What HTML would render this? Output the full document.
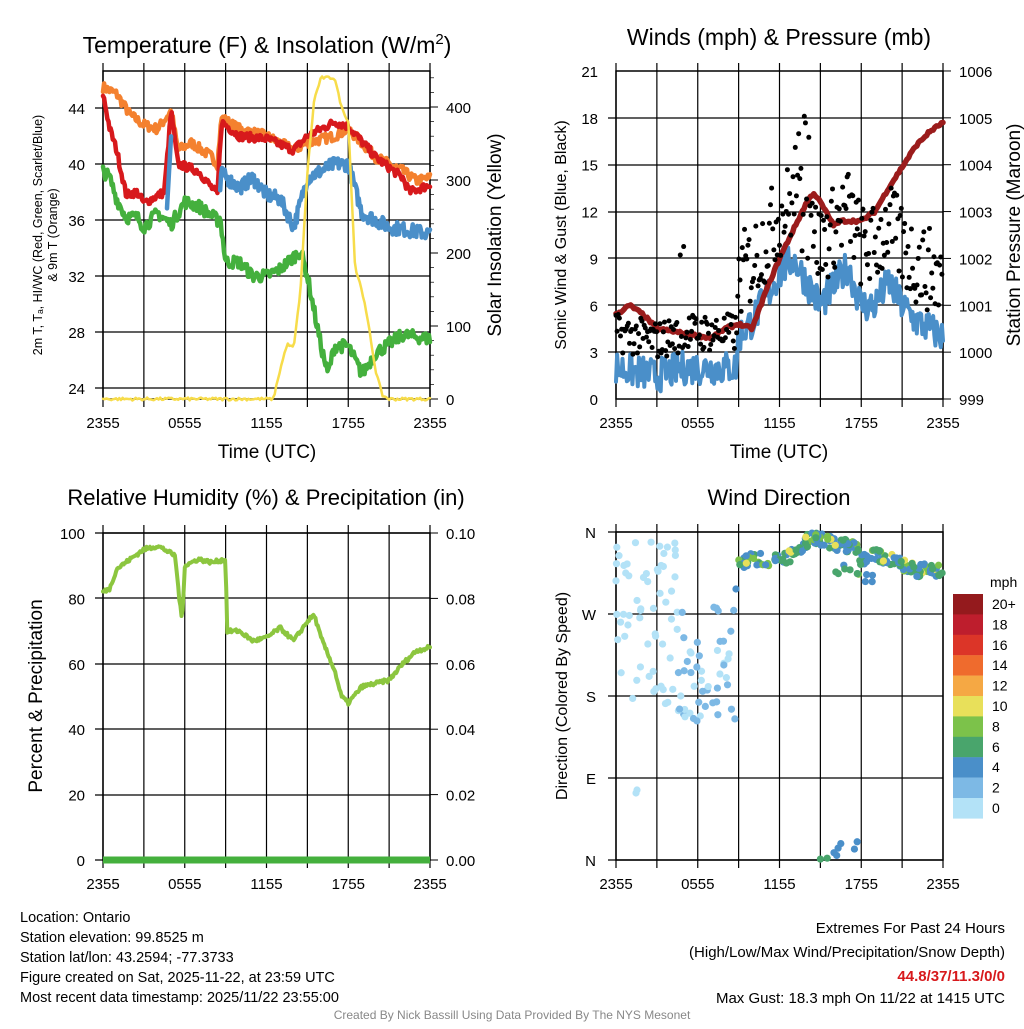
<!DOCTYPE html>
<html><head><meta charset="utf-8"><style>
body{margin:0;background:#fff;}
svg{font-family:"Liberation Sans",sans-serif;}
</style></head><body>
<svg id="s" width="1024" height="1024" xmlns="http://www.w3.org/2000/svg">
<rect width="1024" height="1024" fill="#fff"/>
<text x="267" y="53" font-size="23" text-anchor="middle">Temperature (F) &amp; Insolation (W/m<tspan dy="-9" font-size="15">2</tspan><tspan dy="9">)</tspan></text>
<text x="779" y="45" font-size="23" text-anchor="middle">Winds (mph) &amp; Pressure (mb)</text>
<text x="266" y="505" font-size="22" text-anchor="middle">Relative Humidity (%) &amp; Precipitation (in)</text>
<text x="779" y="505" font-size="22" text-anchor="middle">Wind Direction</text>
<g id="g"></g>
<g font-size="14.5">
<text x="20" y="922">Location: Ontario</text>
<text x="20" y="942">Station elevation: 99.8525 m</text>
<text x="20" y="962">Station lat/lon: 43.2594; -77.3733</text>
<text x="20" y="982">Figure created on Sat, 2025-11-22, at 23:59 UTC</text>
<text x="20" y="1002">Most recent data timestamp: 2025/11/22 23:55:00</text>
<text x="1005" y="933" text-anchor="end" font-size="15">Extremes For Past 24 Hours</text>
<text x="1005" y="957" text-anchor="end" font-size="15">(High/Low/Max Wind/Precipitation/Snow Depth)</text>
<text x="1005" y="981" text-anchor="end" font-size="15" font-weight="bold" fill="#d7191c">44.8/37/11.3/0/0</text>
<text x="1005" y="1003" text-anchor="end" font-size="15">Max Gust: 18.3 mph On 11/22 at 1415 UTC</text>
</g>
<text x="512" y="1019" text-anchor="middle" font-size="12" fill="#888">Created By Nick Bassill Using Data Provided By The NYS Mesonet</text>
</svg>
<script>
var NS="http://www.w3.org/2000/svg",G=document.getElementById("g");
function el(t,a,txt){var e=document.createElementNS(NS,t);for(var k in a)e.setAttribute(k,a[k]);if(txt!=null)e.textContent=txt;G.appendChild(e);return e;}
var seed=7;function rnd(){seed=(seed*16807)%2147483647;return seed/2147483647;}
function interp(k,h){for(var i=0;i<k.length-1;i++){if(h<=k[i+1][0]){var a=k[i],b=k[i+1],t=(h-a[0])/(b[0]-a[0]||1);return a[1]+t*(b[1]-a[1]);}}return k[k.length-1][1];}
function series(k,h0,h1,n,noise,fx,fy,col,w){var d="";for(var i=0;i<=n;i++){var h=h0+(h1-h0)*i/n;var v=interp(k,h)+(rnd()-0.5)*noise;d+=(i?"L":"M")+fx(h).toFixed(1)+","+fy(v).toFixed(1);}el("path",{d:d,fill:"none",stroke:col,"stroke-width":w,"stroke-linejoin":"round","stroke-linecap":"round"});}
function frame(x0,y0,x1,y1,hy){var xs=[];for(var i=0;i<=8;i++)xs.push(x0+(x1-x0)*i/8);
xs.forEach(function(x){el("line",{x1:x,y1:y0-8,x2:x,y2:y1+8,stroke:"#000","stroke-width":1.2});});
hy.forEach(function(y){el("line",{x1:x0-8,y1:y,x2:x1,y2:y,stroke:"#000","stroke-width":1.2});});
el("rect",{x:x0,y:y0,width:x1-x0,height:y1-y0,fill:"none",stroke:"#000","stroke-width":1.5});
["2355","0555","1155","1755","2355"].forEach(function(t,i){el("text",{x:x0+(x1-x0)*i/4,y:y1+29,"font-size":15,"text-anchor":"middle"},t);});}
var X=function(x0){return function(h){return x0+h*327/24;};};
// ---- Panel 1
var fx1=X(103),fy1=function(v){return 388-(v-24)*14;},fs=function(v){return 399-v*0.73;};
frame(103,71,430,399,[108,164,220,276,332,388]);
[44,40,36,32,28,24].forEach(function(v){el("text",{x:85,y:fy1(v)+6,"font-size":15,"text-anchor":"end"},v);});
[0,100,200,300,400].forEach(function(v){el("line",{x1:430,y1:fs(v),x2:438,y2:fs(v),stroke:"#000"});el("text",{x:446,y:fs(v)+6,"font-size":15},v);});
for(var v=0;v<=440;v+=20){el("line",{x1:430,y1:fs(v),x2:434,y2:fs(v),stroke:"#000","stroke-width":0.7});}
el("text",{x:267,y:458,"font-size":19,"text-anchor":"middle"},"Time (UTC)");
el("text",{transform:"translate(42,235) rotate(-90)","font-size":12.5,"text-anchor":"middle"},"2m T, T\u2090, HI/WC (Red, Green, Scarlet/Blue)");
el("text",{transform:"translate(57,235) rotate(-90)","font-size":12.5,"text-anchor":"middle"},"& 9m T (Orange)");
el("text",{transform:"translate(501,235) rotate(-90)","font-size":19,"text-anchor":"middle"},"Solar Insolation (Yellow)");
series([[0,45.5],[1,45],[2,43.5],[3,42.8],[4,42.5],[5,43.8],[5.5,41],[6.5,41.5],[8,40.5],[8.4,40],[8.7,43.3],[10,42.5],[12,42],[14,41],[15,41.5],[17,42],[18,42.5],[20,40.5],[22,39.5],[23,38.8],[24,39]],0,24,300,0.7,fx1,fy1,"#f4812f",4.5);
series([[0,45],[0.5,42.5],[1,41],[1.7,37.8],[2.5,38],[3,37.2],[4.5,38],[5,43.8],[5.5,40],[7,39.5],[8.4,37.8],[8.7,43],[10,42],[12,41.8],[14,41],[15,42],[17,43],[18,42.7],[20,40.5],[22,39],[22.5,38],[24,38.5]],0,24,300,0.6,fx1,fy1,"#d7191c",4.5);
series([[4.7,37],[5,42]],4.7,5,6,0.4,fx1,fy1,"#4a8fc9",4.5);
series([[8.6,38],[8.7,39.3],[10,38.3],[11,39],[12,37.8],[13,37.5],[14,35.5],[15,39],[17,40],[18,40],[19,36.5],[21,35.5],[24,35]],8.6,24,230,1.0,fx1,fy1,"#4a8fc9",4.5);
series([[0,39.5],[0.5,39],[1,37.5],[1.7,36.2],[2.5,36.2],[3,35.5],[4,36.5],[5,35.7],[6,37.3],[7,37],[8.4,36],[8.6,36.2],[9,33],[10,33],[11,32],[12,32],[13,32.5],[14.5,33.8],[15,32],[16,27],[16.5,25],[17,27],[18,27],[19,25],[20,26.5],[22,27.8],[24,27.5]],0,24,300,0.9,fx1,fy1,"#44b03d",4.5);
series([[0,0],[12.5,0],[13,40],[13.5,75],[14,70],[14.5,150],[15,310],[15.5,410],[16,440],[17,440],[17.5,400],[18,380],[18.5,180],[19,150],[19.5,100],[20,40],[20.5,5],[21,0],[24,0]],0,24,200,4,fx1,fs,"#f7dc4a",2.5);
// ---- Panel 2
var fx2=X(616),fy2=function(v){return 399-v*15.62;},fp=function(v){return 399-(v-999)*46.86;};
frame(616,71,943,399,[352,305,258,212,165,118]);
[0,3,6,9,12,15,18,21].forEach(function(v){el("text",{x:598,y:fy2(v)+6,"font-size":15,"text-anchor":"end"},v);});
for(var p=999;p<=1006;p++){el("line",{x1:943,y1:fp(p),x2:951,y2:fp(p),stroke:"#000"});el("text",{x:959,y:fp(p)+6,"font-size":15},p);}
el("text",{x:779,y:458,"font-size":19,"text-anchor":"middle"},"Time (UTC)");
el("text",{transform:"translate(566,235) rotate(-90)","font-size":16,"text-anchor":"middle"},"Sonic Wind & Gust (Blue, Black)");
el("text",{transform:"translate(1020,235) rotate(-90)","font-size":19,"text-anchor":"middle"},"Station Pressure (Maroon)");
var wk=[[0,2],[3,1.5],[5,2],[7,2],[8.8,2],[9,4],[10,5],[11,6.5],[12,8],[13,9],[14,7.5],[15,6],[17,8.5],[18,6],[19,6],[20,7.5],[21,6],[22,5],[24,4]];
series(wk,0,24,300,2.2,fx2,fy2,"#4a8fc9",4);
series([[0,1000.8],[1,1001],[2,1000.8],[3,1000.5],[5,1000.4],[7,1000.3],[8,1000.5],[9,1000.6],[10,1000.5],[11,1001.3],[12,1002],[13,1002.6],[14,1003.2],[14.5,1003.4],[15,1003.2],[16,1002.7],[16.5,1002.8],[18,1002.8],[19,1003],[20,1003.5],[22,1004.4],[23,1004.7],[24,1004.9]],0,24,200,0.06,fx2,fp,"#9b1c1c",5.5);
for(var i=0;i<290;i++){var h=i*24/290;var g=interp(wk,h)+1+rnd()*(h<9?2.5:5.5);if(h>4.5&&h<5&&rnd()<0.3)g+=5;if(h>13&&h<14.5&&rnd()<0.3)g+=4;el("circle",{cx:fx2(h),cy:fy2(g),r:2.5,fill:"#000"});}
// ---- Panel 3
var fy3=function(v){return 860-v*3.27;};
frame(103,533,430,860,[533,598,664,729,795,860]);
[0,20,40,60,80,100].forEach(function(v){el("text",{x:85,y:fy3(v)+6,"font-size":15,"text-anchor":"end"},v);el("line",{x1:430,y1:fy3(v),x2:438,y2:fy3(v),stroke:"#000"});el("text",{x:446,y:fy3(v)+6,"font-size":15},(v/1000).toFixed(2));});
el("text",{transform:"translate(42,696) rotate(-90)","font-size":19,"text-anchor":"middle"},"Percent & Precipitation");
series([[0,82],[0.5,83],[1,89],[2,92],[3,95],[4,96],[4.5,95],[5.3,93],[5.6,80],[5.8,73],[6,90],[7,92],[8,91],[9,92],[9.1,70],[10,70],[11,67],[12,68],[13,71],[14,67],[15,73],[15.5,75],[16,68],[17,58],[17.5,50],[18,48],[19,53],[20,54],[21,55],[22,60],[23,64],[24,65]],0,24,300,1.2,X(103),fy3,"#8cc63f",4);
el("line",{x1:103,y1:860,x2:430,y2:860,stroke:"#44b03d","stroke-width":7});
// ---- Panel 4
var fd=function(d){return 860-d*328/360;},fx4=X(616);
frame(616,532,943,860,[532,614,696,778,860]);
[["N",532],["W",614],["S",696],["E",778],["N",860]].forEach(function(a){el("text",{x:596,y:a[1]+6,"font-size":15,"text-anchor":"end"},a[0]);});
el("text",{transform:"translate(567,696) rotate(-90)","font-size":16,"text-anchor":"middle"},"Direction (Colored By Speed)");
var cols=["#b3e2f7","#7db9e5","#4a8fc9","#49a56c","#7cc24a","#e8e05a","#f5a844","#ef6b2d","#dc3528","#be1e2d","#941a1d"];
for(var i=0;i<110;i++){var h=rnd()*8.8;var d=170+rnd()*185;if(h>4.5)d=150+rnd()*130;var c=h>4.5&&rnd()<0.6?cols[1]:cols[0];el("circle",{cx:fx4(h),cy:fd(d),r:3.6,fill:c});}
el("circle",{cx:636,cy:793,r:3.6,fill:cols[0]});el("circle",{cx:637,cy:790,r:3.6,fill:cols[0]});
var dk=[[8.8,300],[9,325],[10,330],[12,330],[13,335],[14,350],[14.5,355],[15.5,350],[16.5,345],[17.5,345],[18,330],[19,335],[20,330],[21,325],[22,318],[24,318]];
for(var i=0;i<220;i++){var h=8.8+rnd()*15.2;var d=interp(dk,h)+(rnd()-0.5)*14;if(h>16&&h<19&&rnd()<0.15)d-=25;var s=rnd();var c=s<0.45?cols[2]:s<0.8?cols[3]:s<0.93?cols[4]:cols[5];el("circle",{cx:fx4(h),cy:fd(d),r:3.6,fill:c});}
[[15,1,3],[15.5,2,3],[16,8,2],[16.3,13,2],[16.5,18,2],[17.5,12,2],[17.7,20,2],[16.2,5,2]].forEach(function(p){el("circle",{cx:fx4(p[0]),cy:fd(p[1]),r:3.6,fill:cols[p[2]]});});
// colorbar
el("text",{x:990,y:587,"font-size":14},"mph");
var labs=["20+","18","16","14","12","10","8","6","4","2","0"];
for(var i=0;i<11;i++){el("rect",{x:953,y:594+i*20.4,width:30,height:20.6,fill:cols[10-i]});el("text",{x:992,y:609+i*20.4,"font-size":14},labs[i]);}
</script>
</body></html>
